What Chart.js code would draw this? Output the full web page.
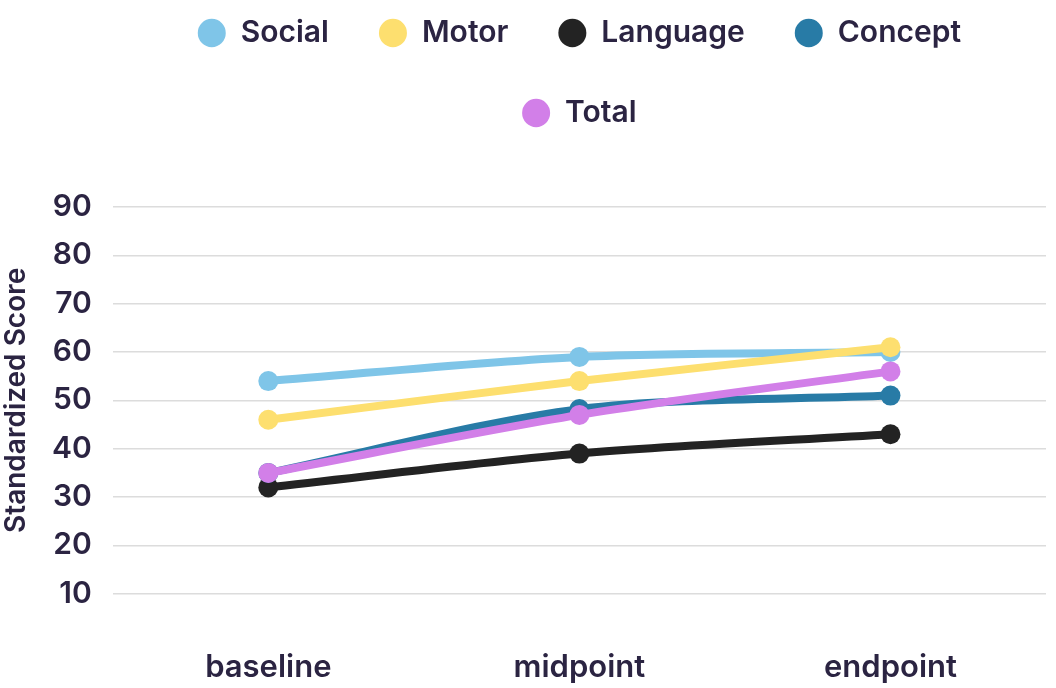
<!DOCTYPE html>
<html>
<head>
<meta charset="utf-8">
<script src="https://cdn.jsdelivr.net/npm/chart.js@4"></script>
<style>
  html, body { margin: 0; padding: 0; background: #fff; }
  #wrap { width: 1056px; height: 688px; position: relative; }
</style>
</head>
<body>
<div id="wrap"><canvas id="chart"></canvas></div>
<script>
// Chart data
const timepoints = ['baseline', 'midpoint', 'endpoint'];
const socialScores = [54, 59, 60];
const motorScores = [46, 54, 61];
const languageScores = [32, 39, 43];
const conceptScores = [35, 48.2, 51];
const totalScores = [35, 47, 56];
const yTicks = [10, 20, 30, 40, 50, 60, 70, 80, 90];

const textColor = '#2b2442';
const fontFamily = 'Inter, "Noto Sans", sans-serif';

function series(label, data, color, order) {
    return {
        label: label,
        data: data,
        borderColor: color,
        backgroundColor: color,
        pointBackgroundColor: color,
        pointBorderWidth: 0,
        pointRadius: 10,
        pointHoverRadius: 10,
        borderWidth: 8,
        tension: 0.3,
        order: order
    };
}

// Wrap the legend into two rows, leave room under it,
// and center it over the plot area
const legendSpacer = {
    id: 'legendSpacer',
    beforeInit(chart) {
        const fit = chart.legend.fit;
        chart.legend.fit = function () {
            const fullWidth = this.maxWidth;
            this.maxWidth = 900;
            fit.call(this);
            this.maxWidth = fullWidth;
            this.width = fullWidth;
            this.height += 69;
        };
    },
    afterLayout(chart) {
        const lg = chart.legend;
        const area = chart.chartArea;
        const shift = (area.left + area.right) / 2 - (lg.left + lg.right) / 2;
        lg.left += shift;
        lg.right += shift;
    }
};

const ctx = document.getElementById('chart').getContext('2d');
new Chart(ctx, {
    type: 'line',
    data: {
        labels: timepoints,
        datasets: [
            series('Social', socialScores, '#7fc5e8', 5),
            series('Motor', motorScores, '#fddf6f', 4),
            series('Language', languageScores, '#232323', 3),
            series('Concept', conceptScores, '#287ba6', 2),
            series('Total', totalScores, '#d27fe8', 1)
        ]
    },
    options: {
        responsive: true,
        maintainAspectRatio: false,
        animation: false,
        layout: {
            padding: { top: -32, right: 0, left: 0, bottom: -53 }
        },
        plugins: {
            legend: {
                position: 'top',
                labels: {
                    usePointStyle: true,
                    pointStyle: 'circle',
                    pointStyleWidth: 28,
                    boxHeight: 20,
                    padding: 50,
                    color: textColor,
                    font: { family: fontFamily, size: 30, weight: '600' },
                    sort: (a, b) => a.datasetIndex - b.datasetIndex
                }
            },
            tooltip: { enabled: false }
        },
        scales: {
            x: {
                offset: true,
                grid: { display: false, drawTicks: false },
                border: { display: false },
                ticks: {
                    color: textColor,
                    padding: 55,
                    font: { family: fontFamily, size: 31, weight: '600' }
                }
            },
            y: {
                min: 10,
                max: 90,
                afterBuildTicks(axis) {
                    axis.ticks = yTicks.map(v => ({ value: v }));
                },
                grid: { color: '#dcdcdc', lineWidth: 1.5, drawTicks: false },
                border: { display: false },
                ticks: {
                    color: textColor,
                    padding: 21,
                    font: { family: fontFamily, size: 30, weight: '600' }
                },
                title: {
                    display: true,
                    text: 'Standardized Score',
                    color: textColor,
                    padding: { top: 3, bottom: 0 },
                    font: { family: fontFamily, size: 28, weight: '600', lineHeight: 1 }
                }
            }
        }
    },
    plugins: [legendSpacer]
});
</script>
</body>
</html>
